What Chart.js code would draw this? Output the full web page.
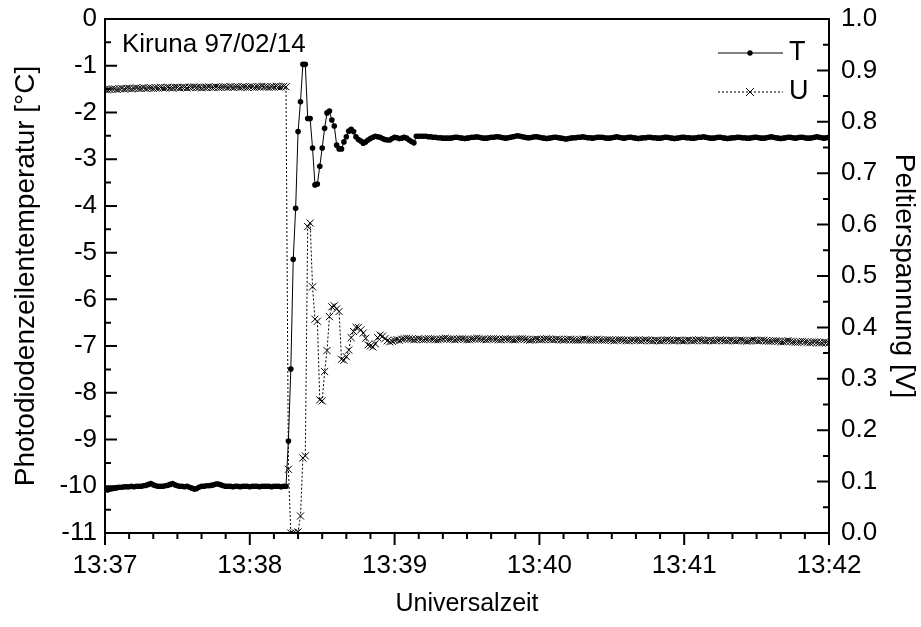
<!DOCTYPE html>
<html>
<head>
<meta charset="utf-8">
<script src="https://cdn.jsdelivr.net/npm/chart.js@4.4.1/dist/chart.umd.min.js"></script>
<style>
  body { margin: 0; background: #fff; }
  #wrap { width: 921px; height: 627px; position: relative; }
</style>
</head>
<body>
<div id="wrap"><canvas id="kiruna"></canvas></div>
<script>
"use strict";
// one sample per second, starting 13:37:00
var timeLabels = ['13:37', '13:38', '13:39', '13:40', '13:41', '13:42'];

// T, Photodiodenzeilentemperatur [°C]
var tempT = [
  -10.07, -10.08, -10.06, -10.05, -10.04, -10.03, -10.02, -10.02, -10.01, -10.01,
  -10.01, -10.00, -10.01, -10.00, -10.00, -10.00, -9.99, -9.98, -9.96, -9.94,
  -9.97, -9.99, -10.00, -10.00, -10.00, -9.99, -9.98, -9.96, -9.94, -9.97,
  -9.99, -10.00, -10.00, -10.01, -10.00, -10.02, -10.04, -10.06, -10.05, -10.02,
  -10.00, -10.00, -9.99, -9.99, -9.98, -9.97, -9.95, -9.95, -9.97, -9.99,
  -10.00, -10.00, -10.00, -10.01, -10.00, -10.00, -10.01, -10.00, -10.00, -10.00,
  -10.01, -10.00, -10.00, -10.00, -10.01, -10.00, -10.00, -10.00, -10.00, -10.01,
  -10.00, -10.00, -10.00, -10.01, -10.00, -10.00, -9.03, -7.49, -5.14, -4.05,
  -2.41, -1.77, -0.97, -0.97, -2.13, -2.13, -2.76, -3.55, -3.53, -3.15,
  -2.76, -2.34, -2.01, -1.97, -2.16, -2.29, -2.70, -2.78, -2.78, -2.63,
  -2.52, -2.40, -2.36, -2.41, -2.52, -2.58, -2.61, -2.66, -2.63, -2.59,
  -2.56, -2.53, -2.51, -2.52, -2.53, -2.56, -2.58, -2.59, -2.59, -2.56,
  -2.53, -2.54, -2.56, -2.55, -2.53, -2.55, -2.59, -2.62, -2.65, -2.51,
  -2.51, -2.51, -2.51, -2.51, -2.52, -2.52, -2.53, -2.53, -2.54, -2.54,
  -2.55, -2.55, -2.55, -2.55, -2.54, -2.53, -2.53, -2.54, -2.55, -2.56,
  -2.55, -2.54, -2.53, -2.53, -2.52, -2.53, -2.54, -2.55, -2.55, -2.54,
  -2.53, -2.53, -2.52, -2.52, -2.53, -2.54, -2.55, -2.54, -2.53, -2.52,
  -2.51, -2.50, -2.51, -2.52, -2.53, -2.54, -2.54, -2.53, -2.52, -2.52,
  -2.53, -2.54, -2.55, -2.56, -2.55, -2.54, -2.53, -2.53, -2.54, -2.55,
  -2.56, -2.57, -2.56, -2.55, -2.54, -2.54, -2.53, -2.53, -2.52, -2.53,
  -2.54, -2.54, -2.55, -2.54, -2.53, -2.53, -2.53, -2.54, -2.55, -2.55,
  -2.54, -2.53, -2.52, -2.53, -2.54, -2.55, -2.54, -2.53, -2.53, -2.54,
  -2.55, -2.56, -2.55, -2.54, -2.54, -2.53, -2.53, -2.54, -2.54, -2.55,
  -2.55, -2.54, -2.53, -2.53, -2.54, -2.55, -2.56, -2.55, -2.54, -2.53,
  -2.53, -2.54, -2.54, -2.55, -2.55, -2.54, -2.53, -2.53, -2.52, -2.53,
  -2.54, -2.55, -2.55, -2.54, -2.53, -2.53, -2.54, -2.55, -2.56, -2.55,
  -2.54, -2.54, -2.53, -2.53, -2.54, -2.54, -2.55, -2.55, -2.54, -2.53,
  -2.53, -2.54, -2.55, -2.55, -2.54, -2.53, -2.52, -2.53, -2.54, -2.55,
  -2.56, -2.55, -2.54, -2.53, -2.53, -2.54, -2.55, -2.54, -2.53, -2.53,
  -2.54, -2.55, -2.55, -2.54, -2.53, -2.52, -2.53, -2.54, -2.55, -2.54,
  -2.53
];

// U, Peltierspannung [V]
var voltU = [
  0.863, 0.862, 0.863, 0.864, 0.864, 0.863, 0.864, 0.865, 0.864, 0.865,
  0.865, 0.864, 0.865, 0.866, 0.865, 0.865, 0.866, 0.865, 0.866, 0.866,
  0.865, 0.866, 0.866, 0.867, 0.866, 0.866, 0.867, 0.866, 0.866, 0.867,
  0.867, 0.866, 0.867, 0.867, 0.866, 0.867, 0.867, 0.868, 0.867, 0.867,
  0.866, 0.867, 0.867, 0.868, 0.867, 0.867, 0.868, 0.867, 0.867, 0.868,
  0.868, 0.867, 0.868, 0.867, 0.868, 0.868, 0.867, 0.868, 0.868, 0.867,
  0.868, 0.868, 0.867, 0.868, 0.868, 0.869, 0.868, 0.868, 0.867, 0.868,
  0.868, 0.869, 0.868, 0.868, 0.869, 0.868, 0.124, 0.000, 0.000, 0.000,
  0.002, 0.033, 0.146, 0.150, 0.596, 0.603, 0.479, 0.416, 0.412, 0.259,
  0.257, 0.314, 0.355, 0.421, 0.440, 0.442, 0.436, 0.431, 0.338, 0.336,
  0.343, 0.356, 0.380, 0.392, 0.400, 0.400, 0.395, 0.389, 0.379, 0.366,
  0.364, 0.362, 0.368, 0.380, 0.385, 0.383, 0.378, 0.374, 0.372, 0.373,
  0.375, 0.376, 0.375, 0.377, 0.378, 0.379, 0.378, 0.377, 0.376, 0.377,
  0.378, 0.377, 0.376, 0.377, 0.378, 0.378, 0.377, 0.376, 0.376, 0.377,
  0.378, 0.379, 0.378, 0.377, 0.377, 0.376, 0.377, 0.378, 0.378, 0.377,
  0.376, 0.376, 0.377, 0.378, 0.379, 0.378, 0.377, 0.377, 0.376, 0.377,
  0.378, 0.378, 0.377, 0.376, 0.376, 0.377, 0.378, 0.377, 0.377, 0.376,
  0.376, 0.377, 0.378, 0.378, 0.377, 0.376, 0.375, 0.376, 0.377, 0.377,
  0.376, 0.376, 0.377, 0.378, 0.377, 0.376, 0.376, 0.377, 0.377, 0.376,
  0.375, 0.376, 0.377, 0.377, 0.376, 0.375, 0.375, 0.376, 0.377, 0.377,
  0.376, 0.375, 0.375, 0.376, 0.377, 0.376, 0.375, 0.375, 0.376, 0.376,
  0.375, 0.374, 0.375, 0.376, 0.376, 0.375, 0.374, 0.374, 0.375, 0.376,
  0.375, 0.375, 0.374, 0.375, 0.376, 0.375, 0.374, 0.374, 0.375, 0.375,
  0.374, 0.374, 0.375, 0.376, 0.375, 0.374, 0.374, 0.375, 0.375, 0.374,
  0.374, 0.375, 0.375, 0.374, 0.374, 0.375, 0.376, 0.375, 0.374, 0.374,
  0.375, 0.375, 0.374, 0.374, 0.375, 0.376, 0.375, 0.374, 0.374, 0.375,
  0.375, 0.374, 0.374, 0.375, 0.375, 0.374, 0.373, 0.374, 0.375, 0.375,
  0.374, 0.374, 0.375, 0.375, 0.374, 0.373, 0.373, 0.374, 0.374, 0.373,
  0.372, 0.372, 0.373, 0.374, 0.373, 0.372, 0.371, 0.371, 0.372, 0.373,
  0.372, 0.371, 0.370, 0.371, 0.372, 0.371, 0.370, 0.370, 0.371, 0.371,
  0.370
];

var FONT = "'Liberation Sans', Arial, Helvetica, sans-serif";

function toPoints(values) {
  return values.map(function (v, i) { return { x: i, y: v }; });
}

// frame, inward/outward tick marks, legend and the site label
var decorations = {
  id: 'decorations',
  afterDatasetsDraw: function (chart) {
    var c = chart.ctx, a = chart.chartArea;
    var sx = chart.scales.x, sy = chart.scales.y, sy1 = chart.scales.y1;
    c.save();
    c.strokeStyle = '#000';
    c.lineWidth = 2;
    c.strokeRect(a.left, a.top, a.right - a.left, a.bottom - a.top);
    c.beginPath();
    var s, v, p, len;
    for (s = 0; s <= 300; s += 10) {
      p = sx.getPixelForValue(s);
      len = s % 60 === 0 ? 12 : 6;
      c.moveTo(p, a.bottom); c.lineTo(p, a.bottom + len);
    }
    for (s = 0; s <= 22; s++) {
      v = -11 + s * 0.5;
      p = sy.getPixelForValue(v);
      len = s % 2 === 0 ? 12 : 6;
      c.moveTo(a.left, p); c.lineTo(a.left + len, p);
    }
    for (s = 0; s <= 20; s++) {
      p = sy1.getPixelForValue(s * 0.05);
      len = s % 2 === 0 ? 12 : 6;
      c.moveTo(a.right, p); c.lineTo(a.right - len, p);
    }
    c.stroke();

    // legend
    c.lineWidth = 1;
    c.beginPath();
    c.moveTo(718, 53); c.lineTo(783, 53);
    c.stroke();
    c.beginPath();
    c.arc(750, 53, 2.7, 0, Math.PI * 2);
    c.fillStyle = '#000';
    c.fill();
    c.setLineDash([2, 2]);
    c.beginPath();
    c.moveTo(718, 92); c.lineTo(783, 92);
    c.stroke();
    c.setLineDash([]);
    c.beginPath();
    c.moveTo(746, 88); c.lineTo(754, 96);
    c.moveTo(754, 88); c.lineTo(746, 96);
    c.stroke();
    c.font = '27px ' + FONT;
    c.textBaseline = 'middle';
    c.textAlign = 'left';
    c.fillText('T', 789, 53);
    c.fillText('U', 789, 92);
    c.font = '26px ' + FONT;
    c.fillText('Kiruna 97/02/14', 122, 45);
    c.restore();
  }
};

Chart.defaults.font.family = FONT;
Chart.defaults.font.size = 26;
Chart.defaults.color = '#000';

function noPadX(scale) { scale.height = 94; scale.paddingLeft = 0; scale.paddingRight = 0; }

new Chart(document.getElementById('kiruna'), {
  type: 'line',
  data: {
    datasets: [{
      label: 'T',
      data: toPoints(tempT),
      yAxisID: 'y',
      borderColor: '#000',
      borderWidth: 1,
      pointStyle: 'circle',
      pointRadius: 2.8,
      pointBorderWidth: 0,
      pointBackgroundColor: '#000',
      tension: 0
    }, {
      label: 'U',
      data: toPoints(voltU),
      yAxisID: 'y1',
      borderColor: '#000',
      borderWidth: 1,
      borderDash: [2, 2],
      pointStyle: 'crossRot',
      pointRadius: 5,
      pointBorderWidth: 1,
      pointBorderColor: '#000',
      tension: 0
    }]
  },
  options: {
    responsive: true,
    maintainAspectRatio: false,
    animation: false,
    layout: { padding: { top: 19, left: 0, right: 0, bottom: 0 } },
    plugins: { legend: { display: false }, tooltip: { enabled: false } },
    scales: {
      x: {
        type: 'linear', min: 0, max: 300,
        grid: { display: false, drawTicks: false },
        border: { display: false },
        ticks: {
          stepSize: 60, autoSkip: false, maxRotation: 0, padding: 17,
          callback: function (v) { return timeLabels[Math.round(v / 60)]; }
        },
        title: { display: true, text: 'Universalzeit', font: { size: 25 }, padding: { bottom: 8 } },
        afterFit: noPadX
      },
      y: {
        position: 'left', min: -11, max: 0,
        grid: { display: false, drawTicks: false },
        border: { display: false },
        ticks: { stepSize: 1, padding: 8 },
        title: { display: true, text: 'Photodiodenzeilentemperatur [°C]', font: { size: 28 }, padding: { top: 9 } },
        afterFit: function (scale) { scale.width = 105; scale.paddingTop = 0; scale.paddingBottom = 0; }
      },
      y1: {
        position: 'right', min: 0, max: 1,
        grid: { display: false, drawTicks: false },
        border: { display: false },
        ticks: {
          stepSize: 0.1, padding: 12,
          callback: function (v) { return v.toFixed(1); }
        },
        title: { display: true, text: 'Peltierspannung [V]', font: { size: 28 }, padding: { top: 0 } },
        afterFit: function (scale) { scale.width = 92; scale.paddingTop = 0; scale.paddingBottom = 0; }
      }
    }
  },
  plugins: [decorations]
});
</script>
</body>
</html>
